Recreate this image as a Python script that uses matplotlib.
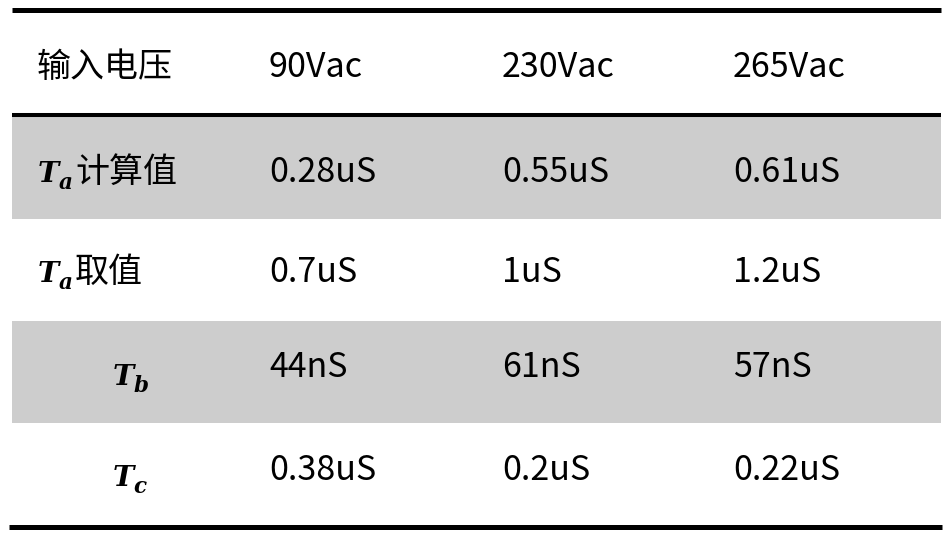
import matplotlib
matplotlib.use('Agg')
from matplotlib import pyplot as plt

plt.rcParams['font.family'] = ['Noto Sans CJK SC', 'DejaVu Sans']
plt.rcParams['mathtext.fontset'] = 'dejavuserif'

# table contents
header = ['输入电压', '90Vac', '230Vac', '265Vac']
row_subs = ['a', 'a', 'b', 'c']
row_names = ['计算值', '取值', '', '']
v90 = ['0.28uS', '0.7uS', '44nS', '0.38uS']
v230 = ['0.55uS', '1uS', '61nS', '0.2uS']
v265 = ['0.61uS', '1.2uS', '57nS', '0.22uS']

# layout (pixels)
col_x = [37, 269, 502, 733]
baselines = [77, 182, 282, 377, 480]
math_base = [182, 282, 385, 486]
row_edges = [117, 219, 321, 423, 525]
gray = '#cdcdcd'

fig = plt.figure(figsize=(9.52, 5.36), dpi=100)
ax = fig.add_axes([0, 0, 1, 1])
ax.set_xlim(0, 952)
ax.set_ylim(536, 0)
ax.axis('off')

x0, x1 = 12, 941
for i in (0, 2):
    ax.fill_between([x0, x1], row_edges[i], row_edges[i + 1], color=gray, lw=0)

ax.hlines([9.5], x0, x1, colors='black', lw=3.6)
ax.hlines([115], x0, x1, colors='black', lw=2.9)
ax.hlines([526.5], 9, 942, colors='black', lw=3.6)

fs = 24.5
for j, h in enumerate(header):
    ax.text(col_x[j], baselines[0], h, fontsize=fs, va='baseline', ha='left')

for i in range(4):
    y = baselines[i + 1]
    xm = col_x[0] if row_names[i] else 112
    ym = math_base[i]
    ax.text(xm, ym, r'$\mathbfit{T}$', fontsize=20.5, va='baseline', ha='left')
    ax.text(xm + 21, ym + 7, r'$\mathbfit{%s}$' % row_subs[i], fontsize=15.5,
            va='baseline', ha='left')
    if row_names[i]:
        ax.text(75, y, row_names[i], fontsize=fs, va='baseline', ha='left')
    for j, vals in enumerate([v90, v230, v265]):
        ax.text(col_x[j + 1], y, vals[i], fontsize=fs, va='baseline', ha='left')

fig.savefig('out.png', dpi=100)
